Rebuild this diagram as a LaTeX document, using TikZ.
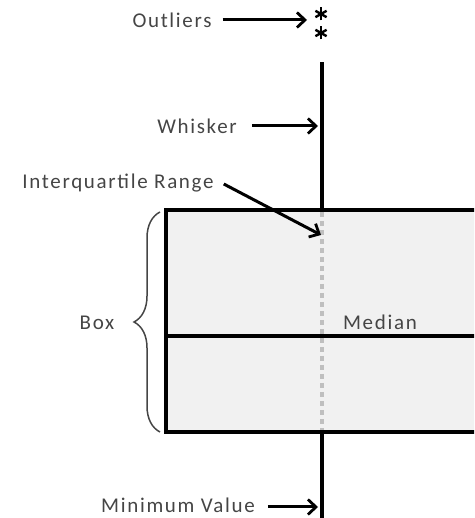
\documentclass[tikz,border=0pt]{standalone}
\usepackage{fontspec}
\setmainfont{Carlito}[LetterSpace=8]
\usetikzlibrary{arrows.meta,decorations.pathreplacing}
\definecolor{txt}{HTML}{454545}
\definecolor{boxfill}{HTML}{F1F1F1}
\begin{document}
\begin{tikzpicture}[x=1pt,y=1pt,
  lbl/.style={text=txt,font=\fontsize{21}{23}\selectfont,inner sep=0pt},
  pointer/.style={line width=3pt,-{Straight Barb[length=8pt,width=15pt,line width=2.8pt]}},
  thick line/.style={line width=3.2pt},
  whisk/.style={line width=4.6pt}]
\useasboundingbox (0,0) rectangle (474,518);
\clip (0,0) rectangle (474,518);
% box
\draw[thick line,fill=boxfill] (166,86) rectangle (482,308);
\coordinate (mL) at (166,182);
\coordinate (mR) at (482,182);
\draw[thick line] (mL) -- (mR);
% dotted IQR
\coordinate (qB) at (322,88);
\coordinate (qT) at (322,306);
\draw[line width=3.4pt,gray!50,dash pattern=on 5pt off 4pt] (qT) -- (qB);
% whiskers
\coordinate (wT1) at (322,308);
\coordinate (wT2) at (322,456);
\coordinate (wB1) at (322,86);
\coordinate (wB2) at (322,-2);
\draw[whisk] (wT1) -- (wT2);
\draw[whisk] (wB1) -- (wB2);
% outliers
\coordinate (o1) at (321,504);
\coordinate (o2) at (321,485);
\foreach \o in {o1,o2}{
  \draw[line width=2.4pt] ([yshift=-6.5pt]\o) -- ([yshift=6.5pt]\o);
  \draw[line width=2.4pt] ([shift={(-5.6pt,-3.2pt)}]\o) -- ([shift={(5.6pt,3.2pt)}]\o);
  \draw[line width=2.4pt] ([shift={(-5.6pt,3.2pt)}]\o) -- ([shift={(5.6pt,-3.2pt)}]\o);
}
% labels
\node[lbl] (outl) at (172,498) {Outliers};
\node[lbl] (whl) at (197,392) {Whisker};
\node[lbl] (iqr) at (118,335) {Interquartile Range};
\node[lbl] (boxl) at (97,195) {Box};
\node[lbl] (med) at (380,196) {Median};
\node[lbl] (minl) at (178,13) {Minimum Value};
% pointers
\coordinate (aO) at (307,498);
\coordinate (aW) at (318,392);
\coordinate (aI) at (321,283);
\coordinate (aM) at (318,11);
\draw[pointer] ([xshift=11pt]outl.east) -- (aO);
\draw[pointer] ([xshift=15pt]whl.east) -- (aW);
\draw[pointer] ([xshift=10pt,yshift=-1pt]iqr.east) -- (aI);
\draw[pointer] ([xshift=13pt,yshift=-2pt]minl.east) -- (aM);
% brace
\coordinate (bB) at (160,86);
\coordinate (bT) at (160,306);
\draw[txt,line width=1.5pt,decorate,decoration={brace,amplitude=26pt}] (bB) -- (bT);
\end{tikzpicture}
\end{document}
